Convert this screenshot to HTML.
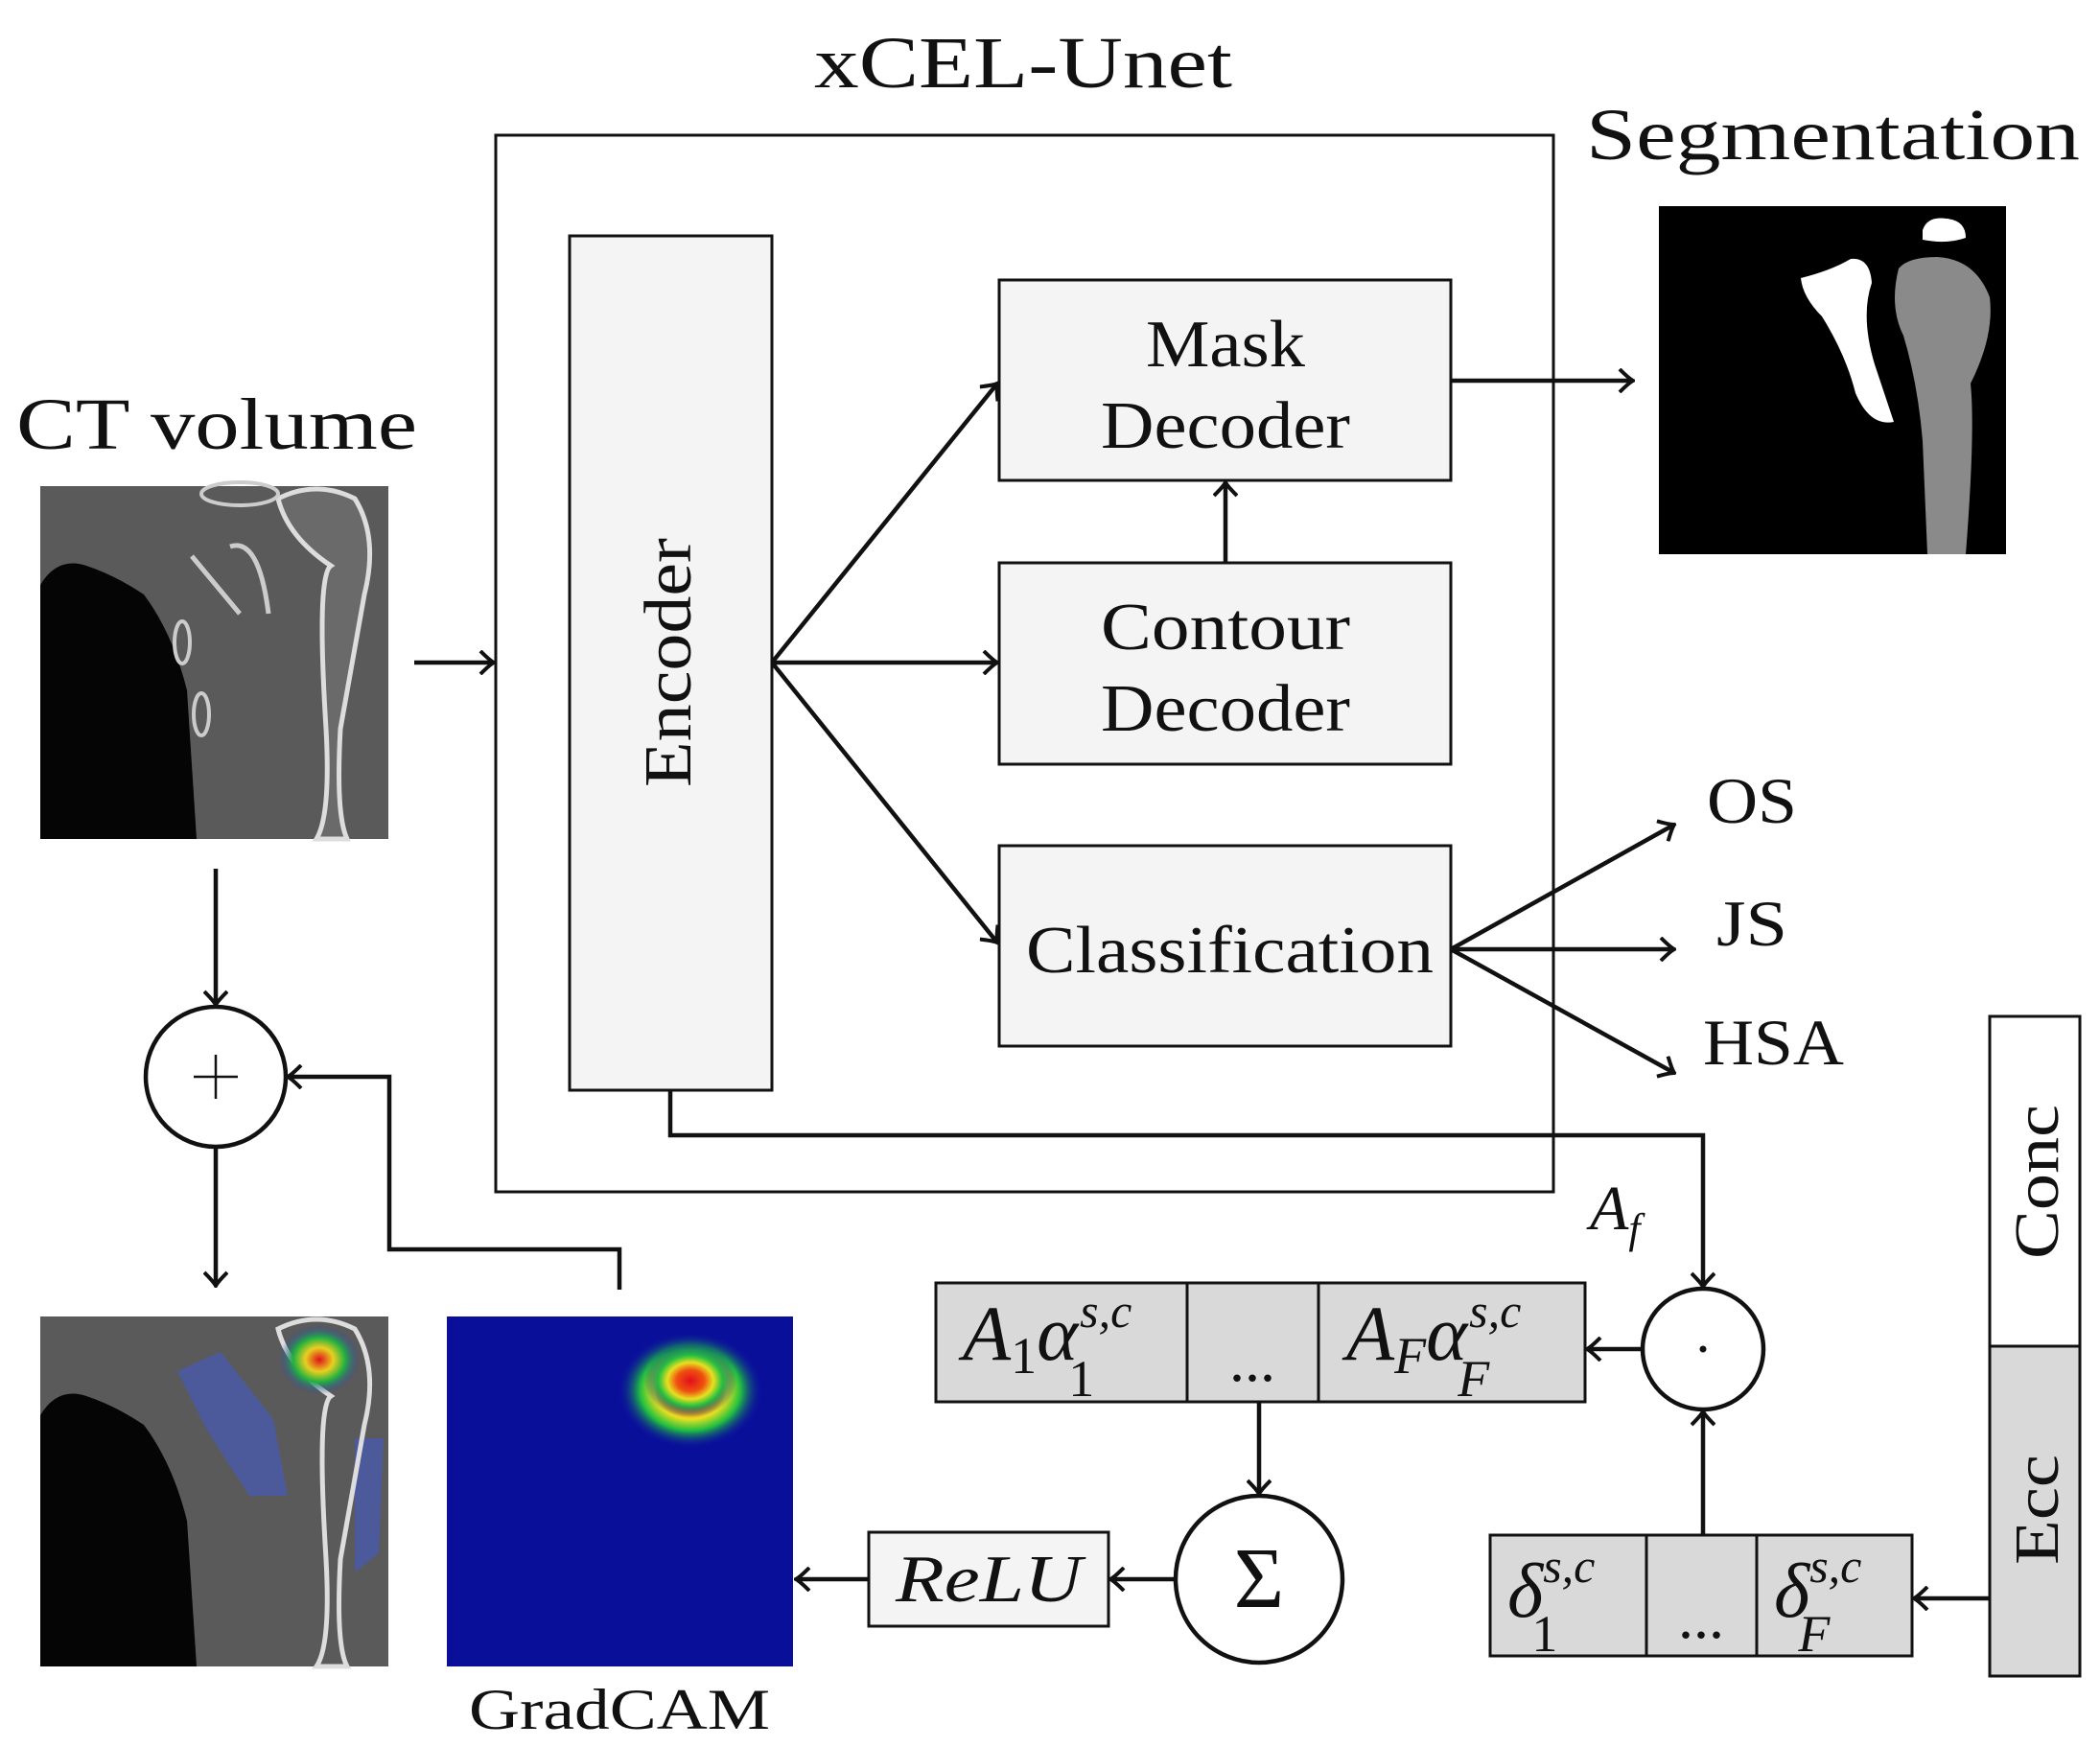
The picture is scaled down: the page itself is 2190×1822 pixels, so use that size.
<!DOCTYPE html>
<html><head><meta charset="utf-8"><style>
html,body{margin:0;padding:0;background:#fff}
svg{display:block}
text{font-family:"Liberation Serif",serif;fill:#111}
</style></head><body>
<svg width="2190" height="1822" viewBox="0 0 2190 1822" xmlns="http://www.w3.org/2000/svg">
<defs>
<marker id="a" viewBox="-16 -13 18 26" refX="0" refY="0" markerWidth="18" markerHeight="26" markerUnits="userSpaceOnUse" orient="auto">
<path d="M-14,-12 Q-4,-2 0,0 Q-4,2 -14,12" fill="none" stroke="#111" stroke-width="4"/>
</marker>
<radialGradient id="hot" cx="0.5" cy="0.5" r="0.5">
<stop offset="0" stop-color="#e0101a"/><stop offset="0.3" stop-color="#f05010"/><stop offset="0.5" stop-color="#e8e020"/><stop offset="0.7" stop-color="#20c040"/><stop offset="1" stop-color="#0a1a9a" stop-opacity="0"/>
</radialGradient>
<radialGradient id="hot2" cx="0.5" cy="0.5" r="0.5">
<stop offset="0" stop-color="#e0101a"/><stop offset="0.35" stop-color="#e8d020"/><stop offset="0.65" stop-color="#20b040"/><stop offset="1" stop-color="#3040c0" stop-opacity="0"/>
</radialGradient>
</defs>
<g stroke="#111" stroke-width="4.5" fill="none">
<rect x="517" y="141" width="1103" height="1102" stroke-width="3"/>
<rect x="594" y="246" width="211" height="891" fill="#f4f4f4" stroke-width="3"/>
<rect x="1042" y="292" width="471" height="209" fill="#f4f4f4" stroke-width="3"/>
<rect x="1042" y="587" width="471" height="210" fill="#f4f4f4" stroke-width="3"/>
<rect x="1042" y="882" width="471" height="209" fill="#f4f4f4" stroke-width="3"/>
<line x1="432" y1="691" x2="515" y2="691" marker-end="url(#a)"/>
<line x1="805" y1="691" x2="1040" y2="400" marker-end="url(#a)"/>
<line x1="805" y1="691" x2="1040" y2="691" marker-end="url(#a)"/>
<line x1="805" y1="691" x2="1040" y2="983" marker-end="url(#a)"/>
<line x1="1513" y1="397" x2="1703" y2="397" marker-end="url(#a)"/>
<line x1="1278" y1="587" x2="1278" y2="503" marker-end="url(#a)"/>
<line x1="1513" y1="990" x2="1746" y2="860" marker-end="url(#a)"/>
<line x1="1513" y1="990" x2="1746" y2="990" marker-end="url(#a)"/>
<line x1="1513" y1="990" x2="1746" y2="1119" marker-end="url(#a)"/>
<polyline points="699,1137 699,1184 1776,1184 1776,1342" marker-end="url(#a)"/>
<line x1="1713" y1="1407" x2="1655" y2="1407" marker-end="url(#a)"/>
<line x1="1776" y1="1601" x2="1776" y2="1472" marker-end="url(#a)"/>
<line x1="2075" y1="1667" x2="1996" y2="1667" marker-end="url(#a)"/>
<line x1="1313" y1="1462" x2="1313" y2="1558" marker-end="url(#a)"/>
<line x1="1226" y1="1647" x2="1158" y2="1647" marker-end="url(#a)"/>
<line x1="906" y1="1647" x2="830" y2="1647" marker-end="url(#a)"/>
<line x1="225" y1="906" x2="225" y2="1048" marker-end="url(#a)"/>
<line x1="225" y1="1196" x2="225" y2="1341" marker-end="url(#a)"/>
<polyline points="646,1345 646,1303 406,1303 406,1123 300,1123" marker-end="url(#a)"/>
<circle cx="225" cy="1123" r="73" fill="#fff"/>
<circle cx="1776" cy="1407" r="63" fill="#fff"/>
<circle cx="1313" cy="1647" r="87" fill="#fff"/>
<rect x="976" y="1338" width="677" height="124" fill="#d9d9d9" stroke-width="3"/>
<line x1="1238" y1="1338" x2="1238" y2="1462" stroke-width="3"/>
<line x1="1375" y1="1338" x2="1375" y2="1462" stroke-width="3"/>
<rect x="1554" y="1601" width="440" height="126" fill="#d9d9d9" stroke-width="3"/>
<line x1="1717" y1="1601" x2="1717" y2="1727" stroke-width="3"/>
<line x1="1832" y1="1601" x2="1832" y2="1727" stroke-width="3"/>
<rect x="906" y="1598" width="250" height="98" fill="#f4f4f4" stroke-width="3"/>
<rect x="2075" y="1060" width="94" height="344" fill="#fff" stroke-width="3"/>
<rect x="2075" y="1404" width="94" height="344" fill="#d9d9d9" stroke-width="3"/>
<line x1="202" y1="1123" x2="248" y2="1123" stroke-width="2.5"/>
<line x1="225" y1="1100" x2="225" y2="1146" stroke-width="2.5"/>
</g>
<circle cx="1776" cy="1407" r="3.5" fill="#111"/>
<g>
<rect x="42" y="507" width="363" height="368" fill="#5a5a5a"/>
<path d="M42,610 Q60,580 90,590 Q120,600 150,620 Q180,660 195,720 L205,875 L42,875Z" fill="#050505"/>
<path d="M340,760 Q330,600 345,590 Q300,560 290,520 Q330,500 370,520 Q395,560 380,620 L355,760 Q350,850 362,875 L330,875 Q345,850 340,760Z" fill="#6a6a6a" stroke="#ddd" stroke-width="5"/>
<path d="M200,580 L250,640 M240,570 Q270,560 280,640" stroke="#ccc" stroke-width="5" fill="none"/>
<ellipse cx="250" cy="515" rx="40" ry="12" fill="none" stroke="#ccc" stroke-width="4"/>
<ellipse cx="190" cy="670" rx="8" ry="22" fill="none" stroke="#ccc" stroke-width="4"/>
<ellipse cx="210" cy="745" rx="8" ry="22" fill="none" stroke="#ccc" stroke-width="4"/>
</g>
<g>
<rect x="42" y="1373" width="363" height="365" fill="#5a5a5a"/>
<path d="M42,1476 Q60,1446 90,1456 Q120,1466 150,1486 Q180,1526 195,1586 L205,1738 L42,1738Z" fill="#050505"/>
<path d="M185,1430 L230,1410 L285,1480 L300,1560 L260,1560 L215,1490Z" fill="#4a5aa8" opacity="0.85"/>
<path d="M370,1500 L400,1500 L395,1620 L370,1640Z" fill="#4a5aa8" opacity="0.85"/>
<path d="M340,1626 Q330,1466 345,1456 Q300,1426 290,1386 Q330,1366 370,1386 Q395,1426 380,1486 L355,1626 Q350,1716 362,1738 L330,1738 Q345,1716 340,1626Z" fill="none" stroke="#ddd" stroke-width="5"/>
<ellipse cx="333" cy="1418" rx="42" ry="36" fill="url(#hot2)"/>
</g>
<rect x="466" y="1373" width="361" height="365" fill="#0a0f9a"/>
<rect x="645" y="1390" width="150" height="120" rx="40" fill="url(#hot)"/>
<ellipse cx="720" cy="1440" rx="48" ry="38" fill="url(#hot)"/>
<rect x="1730" y="215" width="362" height="363" fill="#000"/>
<path d="M1980,280 Q1970,320 1985,350 Q2000,400 2005,460 L2010,578 L2050,578 Q2060,450 2055,400 Q2080,350 2075,310 Q2060,270 2020,268 Q1990,268 1980,280Z" fill="#8a8a8a"/>
<path d="M1878,290 Q1910,282 1930,270 Q1950,268 1952,295 Q1940,330 1955,380 L1975,440 Q1950,445 1935,410 Q1925,370 1900,330 Q1880,310 1878,290Z" fill="#fff"/>
<path d="M2005,240 Q2010,225 2030,228 Q2050,230 2050,248 Q2030,255 2005,250Z" fill="#fff"/>
<text x="849" y="91" font-size="76" textLength="436" lengthAdjust="spacingAndGlyphs">xCEL-Unet</text>
<text x="1654" y="166" font-size="76" textLength="515" lengthAdjust="spacingAndGlyphs">Segmentation</text>
<text x="17" y="468" font-size="76" textLength="418" lengthAdjust="spacingAndGlyphs">CT volume</text>
<text font-size="70" textLength="260" lengthAdjust="spacingAndGlyphs" transform="translate(720,821) rotate(-90)">Encoder</text>
<text x="1195" y="382" font-size="70" textLength="166" lengthAdjust="spacingAndGlyphs">Mask</text>
<text x="1148" y="467" font-size="70" textLength="260" lengthAdjust="spacingAndGlyphs">Decoder</text>
<text x="1148" y="677" font-size="70" textLength="260" lengthAdjust="spacingAndGlyphs">Contour</text>
<text x="1148" y="762" font-size="70" textLength="260" lengthAdjust="spacingAndGlyphs">Decoder</text>
<text x="1070" y="1014" font-size="70" textLength="425" lengthAdjust="spacingAndGlyphs">Classification</text>
<text x="1780" y="858" font-size="68" textLength="94" lengthAdjust="spacingAndGlyphs">OS</text>
<text x="1790" y="986" font-size="68" textLength="74" lengthAdjust="spacingAndGlyphs">JS</text>
<text x="1776" y="1110" font-size="68" textLength="147" lengthAdjust="spacingAndGlyphs">HSA</text>
<text x="1658" y="1282" font-size="66" font-style="italic">A<tspan font-size="44" dy="14">f</tspan></text>
<text x="1004" y="1418" font-size="82" font-style="italic">A<tspan font-size="54" dy="14" font-style="normal">1</tspan><tspan dy="-14">α</tspan><tspan font-size="50" dx="2" dy="-34">s,c</tspan><tspan font-size="54" dx="-66" dy="72" font-style="normal">1</tspan></text>
<text x="1306" y="1440" font-size="64" text-anchor="middle">...</text>
<text x="1404" y="1418" font-size="82" font-style="italic">A<tspan font-size="54" dy="14">F</tspan><tspan dy="-14">α</tspan><tspan font-size="50" dx="2" dy="-34">s,c</tspan><tspan font-size="54" dx="-66" dy="72">F</tspan></text>
<text x="1572" y="1686" font-size="80" font-style="italic">δ<tspan font-size="50" dy="-36">s,c</tspan><tspan font-size="54" dx="-66" dy="72" font-style="normal">1</tspan></text>
<text x="1774" y="1708" font-size="64" text-anchor="middle">...</text>
<text x="1850" y="1686" font-size="80" font-style="italic">δ<tspan font-size="50" dy="-36">s,c</tspan><tspan font-size="54" dx="-66" dy="72">F</tspan></text>
<text x="934" y="1670" font-size="70" font-style="italic" textLength="194" lengthAdjust="spacingAndGlyphs">ReLU</text>
<text x="1313" y="1676" font-size="90" text-anchor="middle">Σ</text>
<text x="489" y="1803" font-size="60" textLength="314" lengthAdjust="spacingAndGlyphs">GradCAM</text>
<text font-size="66" textLength="161" lengthAdjust="spacingAndGlyphs" transform="translate(2146,1313) rotate(-90)">Conc</text>
<text font-size="66" textLength="115" lengthAdjust="spacingAndGlyphs" transform="translate(2146,1632) rotate(-90)">Ecc</text>
</svg>
</body></html>
